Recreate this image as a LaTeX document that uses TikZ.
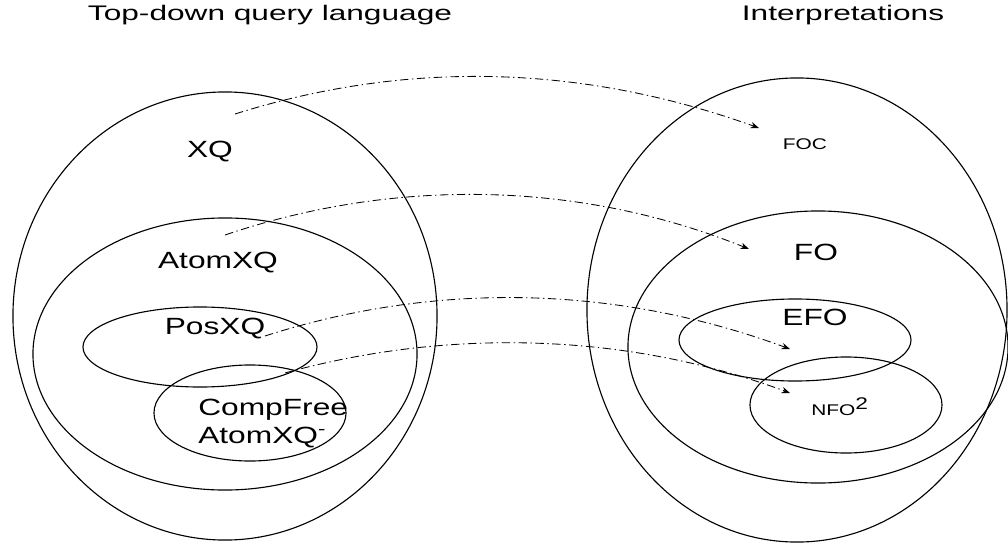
\documentclass[tikz,border=0pt]{standalone}
\usepackage{fontspec}
\setmainfont{Liberation Sans}[FakeStretch=1.35]
\newfontfamily\headfont{Liberation Sans}[FakeStretch=1.5]
\usetikzlibrary{shapes.geometric, arrows.meta}

\begin{document}
\begin{tikzpicture}[
    x=0.025cm, y=-0.025cm,
    set/.style={draw, ellipse, inner sep=0pt, line width=0.8pt},
    lbl/.style={font=\fontsize{16.7}{20}\selectfont, anchor=base, inner sep=0pt},
    smalllbl/.style={font=\fontsize{11}{13}\selectfont, anchor=base, inner sep=0pt},
    head/.style={font=\headfont\fontsize{15}{18}\selectfont, anchor=base, inner sep=0pt},
    map/.style={-{Stealth[length=6pt, width=4.5pt]}, line width=0.6pt,
                dash pattern=on 6pt off 2.5pt on 1pt off 2.5pt}
  ]
  \useasboundingbox (0,0) rectangle (1008,552);

  % Headings
  \node[head] (lang)   at (270,20) {Top-down query language};
  \node[head] (interp) at (843,20) {Interpretations};

  % Sets – query languages
  \node[set, minimum width=10.6cm, minimum height=11.2cm] (xqset)    at (225,316) {};
  \node[set, minimum width=9.6cm,  minimum height=6.8cm]  (atomset)  at (225,354) {};
  \node[set, minimum width=5.85cm, minimum height=2cm]    (posset)   at (200,347) {};
  \node[set, minimum width=4.8cm,  minimum height=2.4cm]  (cfreeset) at (250,413) {};

  % Sets – interpretations
  \node[set, minimum width=10.5cm, minimum height=11.6cm] (focset) at (797,310) {};
  \node[set, minimum width=9.5cm,  minimum height=6.8cm]  (foset)  at (818,347) {};
  \node[set, minimum width=5.8cm,  minimum height=2.05cm] (efoset) at (795,340) {};
  \node[set, minimum width=4.8cm,  minimum height=2.4cm]  (nfoset) at (846,405) {};

  % Labels
  \node[lbl] (xq)    at (210,157) {XQ};
  \node[lbl] (atom)  at (218,268) {AtomXQ};
  \node[lbl] (pos)   at (215,334) {PosXQ};
  \node[lbl, anchor=base west] (cfree)  at (198,415) {CompFree};
  \node[lbl, anchor=base west] (cfree2) at (198,443) {AtomXQ\textsuperscript{-}};
  \node[smalllbl] (foc) at (805,149) {FOC};
  \node[lbl] (fo)    at (816,260) {FO};
  \node[lbl] (efo)   at (815,325) {EFO};
  \node[smalllbl] (nfo) at (840,415) {NFO\textsuperscript{\large 2}};

  % Arrow ends
  \coordinate (s1) at (235,114); \coordinate (e1) at (759,128);
  \coordinate (s2) at (225,235); \coordinate (e2) at (749,249);
  \coordinate (s3) at (265,336); \coordinate (e3) at (790,349);
  \coordinate (s4) at (285,373); \coordinate (e4) at (790,393);

  % Mappings
  \draw[map] (s1) .. controls (400,62)  and (575,62)  .. (e1);
  \draw[map] (s2) .. controls (390,179) and (575,179) .. (e2);
  \draw[map] (s3) .. controls (430,283) and (610,283) .. (e3);
  \draw[map] (s4) .. controls (440,330) and (620,330) .. (e4);
\end{tikzpicture}
\end{document}
